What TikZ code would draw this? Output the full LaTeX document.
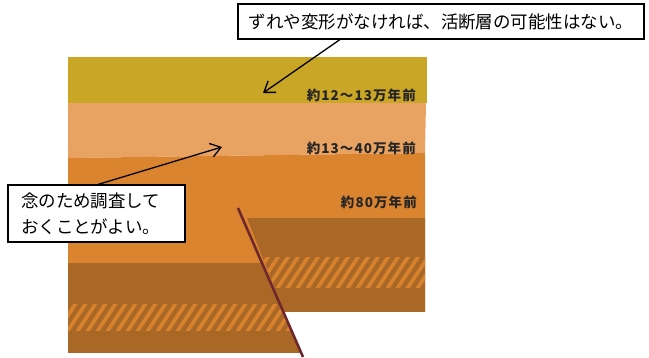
\documentclass[tikz,border=0pt]{standalone}
\usepackage{fontspec}
\setmainfont{Noto Sans CJK JP}
\newfontfamily\agefont[LetterSpace=8]{Noto Sans CJK JP}
\usetikzlibrary{arrows.meta,shadows}
\definecolor{cYellow}{RGB}{201,166,38}
\definecolor{cLight}{RGB}{232,163,98}
\definecolor{cOrange}{RGB}{219,132,48}
\definecolor{cDark}{RGB}{170,104,38}
\definecolor{cStripe}{RGB}{216,130,46}
\definecolor{cFault}{RGB}{110,40,45}
\begin{document}
\begin{tikzpicture}[x=1pt,y=-1pt,
  callout/.style={draw=black, line width=1.1pt, fill=white, inner sep=0pt,
    font=\fontsize{17.5}{26}\selectfont,
    drop shadow={opacity=1, fill=black, shadow xshift=1.2pt, shadow yshift=-1.2pt}},
  pointer/.style={line width=1.3pt, -{Straight Barb[length=10pt,width=14pt,line width=1.3pt]}},
  agelabel/.style={font=\agefont\bfseries\fontsize{13.5}{14}\selectfont, anchor=east,
    inner sep=0pt, text=black!85},
  hatchline/.style={cStripe, line width=3.6pt},
  faultline/.style={cFault, line width=2.6pt}
]
\useasboundingbox (0,0) rectangle (649,358);

% strata
\fill[cYellow] (68,57) rectangle (427,103);
\fill[cLight] (68,103) -- (426,103) -- (425,153) -- (68,158) -- cycle;
\fill[cOrange] (68,158) -- (425,153) -- (425,312) -- (283.4,312) -- (301.3,353) -- (68,353) -- cycle;

% uplifted block, right of the fault
\begin{scope}
  \clip (247,218) -- (425,218) -- (425,312) -- (284,312) -- cycle;
  \fill[cDark] (240,218) rectangle (430,312);
  \clip (240,258) rectangle (430,288);
  \foreach \i in {0,...,22} \draw[hatchline] (225+\i*10,292) -- ++(25,-38);
\end{scope}

% lower block, left of the fault
\begin{scope}
  \clip (68,263) -- (262,263) -- (301.3,353) -- (68,353) -- cycle;
  \fill[cDark] (60,263) rectangle (310,353);
  \clip (60,305) rectangle (310,331);
  \foreach \i in {0,...,27} \draw[hatchline] (45+\i*10,335) -- ++(25,-38);
\end{scope}

% fault trace
\draw[faultline] (238,208) -- (303,357);

% ages of the layers
\node[agelabel] (ageA) at (416,95) {約12～13万年前};
\node[agelabel] (ageB) at (416,148) {約13～40万年前};
\node[agelabel] (ageC) at (417,202) {約80万年前};

% callouts
\node[callout, minimum width=406pt, minimum height=35pt] (topbox) at (441,21.5)
  {ずれや変形がなければ、活断層の可能性はない。};
\node[callout, minimum width=177pt, minimum height=57pt, text width=151pt, align=left]
  (leftbox) at (96.5,213.5) {念のため調査して\\おくことがよい。};

\coordinate (tipTop) at (263,93);
\coordinate (tipMid) at (222,147);
\draw[pointer] ([xshift=-101pt]topbox.south) -- (tipTop);
\draw[pointer] ([xshift=1.5pt]leftbox.north) -- (tipMid);
\end{tikzpicture}
\end{document}
